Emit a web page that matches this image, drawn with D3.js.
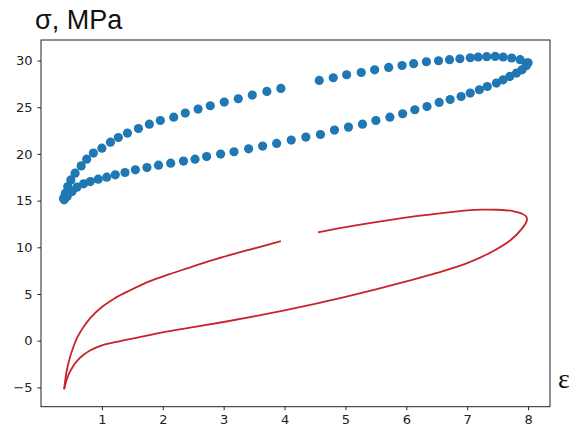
<!DOCTYPE html>
<html>
<head>
<meta charset="utf-8">
<script src="https://cdn.jsdelivr.net/npm/d3@7"></script>
<style>
  body { margin: 0; background: #fff; }
  svg { display: block; }
</style>
</head>
<body>
<div id="chart"></div>
<script>
// measured loop, dots (strain, stress)
var blueX = [0.38, 0.43, 0.51, 0.59, 0.70, 0.81, 0.94, 1.08, 1.22, 1.38, 1.55, 1.74, 1.93, 2.13, 2.34, 2.53, 2.72, 2.95, 3.17, 3.41, 3.64, 3.87, 4.11, 4.35, 4.59, 4.82, 5.05, 5.28, 5.50, 5.73, 5.94, 6.14, 6.34, 6.54, 6.72, 6.90, 7.05, 7.20, 7.33, 7.48, 7.59, 7.70, 7.81, 7.90, 7.97, 8.00,
             7.98, 7.87, 7.73, 7.59, 7.46, 7.32, 7.18, 7.05, 6.88, 6.71, 6.53, 6.33, 6.12, 5.93, 5.71, 5.48, 5.26, 5.02, 4.80, 4.57,
             3.94, 3.71, 3.47, 3.24, 3.01, 2.78, 2.58, 2.37, 2.18, 1.96, 1.78, 1.60, 1.42, 1.27, 1.14, 1.00, 0.86, 0.75, 0.66, 0.56, 0.49, 0.44, 0.40, 0.37];
var blueY = [15.08, 15.43, 15.97, 16.44, 16.80, 17.04, 17.30, 17.51, 17.76, 18.01, 18.30, 18.54, 18.80, 19.01, 19.23, 19.44, 19.72, 19.98, 20.23, 20.55, 20.84, 21.12, 21.48, 21.80, 22.08, 22.55, 22.87, 23.19, 23.58, 23.94, 24.30, 24.73, 25.08, 25.51, 25.83, 26.15, 26.52, 26.87, 27.22, 27.59, 27.94, 28.30, 28.66, 29.01, 29.44, 29.76,
             29.73, 30.09, 30.27, 30.38, 30.44, 30.41, 30.38, 30.30, 30.19, 30.09, 29.98, 29.87, 29.66, 29.47, 29.26, 29.01, 28.72, 28.48, 28.16, 27.87,
             27.01, 26.69, 26.30, 25.91, 25.55, 25.16, 24.80, 24.37, 23.94, 23.58, 23.19, 22.72, 22.23, 21.76, 21.26, 20.62, 20.09, 19.44, 18.72, 17.94, 17.22, 16.51, 15.80, 15.26];

// model curve, upper-left piece (cusp -> gap)
var redUpX = [0.38, 0.42, 0.47, 0.53, 0.60, 0.70, 0.82, 1.00, 1.20, 1.45, 1.80, 2.10, 2.40, 2.80, 3.20, 3.60, 3.94];
var redUpY = [-5.2, -3.3, -1.9, -0.7, 0.4, 1.5, 2.5, 3.6, 4.5, 5.35, 6.4, 7.1, 7.75, 8.6, 9.35, 10.05, 10.65];
// model curve, cusp -> lower branch -> tip -> back to gap
var redLoX = [0.38, 0.42, 0.47, 0.53, 0.60, 0.70, 0.82, 1.00, 1.30, 1.60, 2.00, 2.50, 3.00, 3.50, 4.00, 4.50, 5.00, 5.50, 6.00, 6.50, 7.00, 7.40, 7.70, 7.90, 7.98, 7.97, 7.90, 7.75, 7.50, 7.25, 7.00, 6.70, 6.30, 5.90, 5.50, 5.00, 4.55];
var redLoY = [-5.2, -4.2, -3.4, -2.7, -2.1, -1.5, -1.0, -0.5, -0.05, 0.35, 0.9, 1.45, 2.0, 2.6, 3.25, 3.95, 4.7, 5.5, 6.35, 7.25, 8.3, 9.5, 10.7, 12.0, 12.9, 13.3, 13.6, 13.88, 14.02, 14.03, 13.95, 13.75, 13.45, 13.1, 12.7, 12.15, 11.6];

var xTicks = [1, 2, 3, 4, 5, 6, 7, 8];
var yTicks = [-5, 0, 5, 10, 15, 20, 25, 30];

var width = 572, height = 427;
var margin = {left: 41, right: 22, top: 40, bottom: 20.3};

var svg = d3.select("#chart")
    .append("svg")
    .attr("width", width)
    .attr("height", height);

var x = d3.scaleLinear()
    .domain([0, 8.36])
    .range([margin.left, width - margin.right]);

var y = d3.scaleLinear()
    .domain([-7.07, 32.2])
    .range([height - margin.bottom, margin.top]);

// frame
svg.append("rect")
    .attr("x", x.range()[0])
    .attr("y", y.range()[1])
    .attr("width", x.range()[1] - x.range()[0])
    .attr("height", y.range()[0] - y.range()[1])
    .attr("fill", "none")
    .attr("stroke", "#222")
    .attr("stroke-width", 1);

// axes
var fmt = function(d) { return d < 0 ? "\u2212" + Math.abs(d) : "" + d; };

var gx = svg.append("g")
    .attr("transform", "translate(0," + y.range()[0] + ")")
    .call(d3.axisBottom(x).tickValues(xTicks).tickFormat(fmt).tickSize(3.5).tickPadding(5));
var gy = svg.append("g")
    .attr("transform", "translate(" + x.range()[0] + ",0)")
    .call(d3.axisLeft(y).tickValues(yTicks).tickFormat(fmt).tickSize(3.5).tickPadding(5));

[gx, gy].forEach(function(g) {
    g.select(".domain").remove();
    g.selectAll("line").attr("stroke", "#222");
    g.selectAll("text")
        .attr("fill", "#222")
        .style("font-family", "'DejaVu Sans', sans-serif")
        .style("font-size", "13px");
});

// red curve
var line = d3.line()
    .x(function(d) { return x(d[0]); })
    .y(function(d) { return y(d[1]); })
    .curve(d3.curveCatmullRom.alpha(0.5));

var pieces = [d3.zip(redUpX, redUpY), d3.zip(redLoX, redLoY)];
svg.selectAll("path.red")
    .data(pieces)
    .enter()
    .append("path")
    .attr("class", "red")
    .attr("d", line)
    .attr("fill", "none")
    .attr("stroke", "#c8232b")
    .attr("stroke-width", 1.8);

// blue dots
svg.selectAll("circle.dot")
    .data(d3.zip(blueX, blueY))
    .enter()
    .append("circle")
    .attr("class", "dot")
    .attr("cx", function(d) { return x(d[0]); })
    .attr("cy", function(d) { return y(d[1]); })
    .attr("r", 4.6)
    .attr("fill", "#1f77b4");

// axis names
svg.append("text")
    .attr("x", 35)
    .attr("y", 29)
    .style("font-family", "'Liberation Sans', Arial, sans-serif")
    .style("font-size", "27px")
    .attr("fill", "#111")
    .text("\u03c3, MPa");

svg.append("text")
    .attr("x", 558)
    .attr("y", 388)
    .style("font-family", "'Liberation Serif', 'DejaVu Serif', serif")
    .style("font-size", "28px")
    .attr("fill", "#111")
    .text("\u03b5");
</script>
</body>
</html>
